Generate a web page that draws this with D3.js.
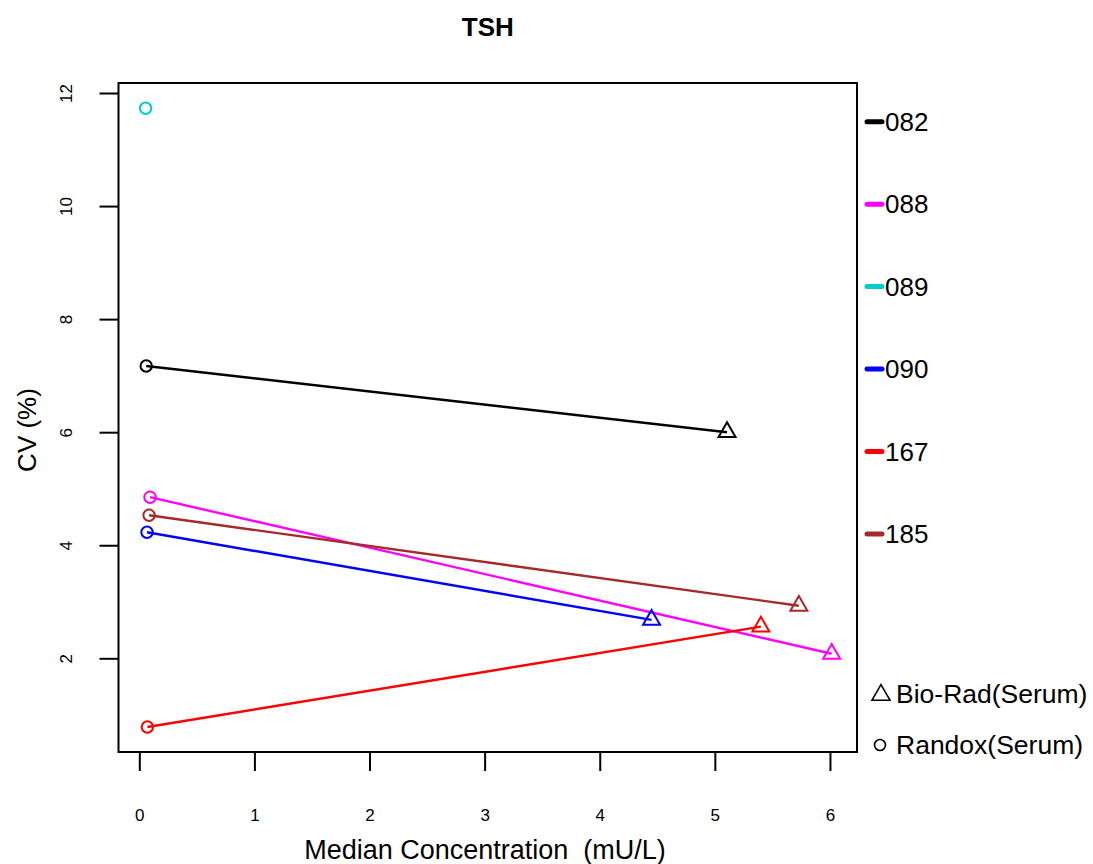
<!DOCTYPE html>
<html>
<head>
<meta charset="utf-8">
<script src="https://cdn.jsdelivr.net/npm/d3@7"></script>
<style>
  body { margin: 0; background: #fff; }
  text { font-family: "Liberation Sans", Arial, sans-serif; fill: #000; }
</style>
</head>
<body>
<svg id="chart" width="1093" height="864"></svg>
<script>
// ---- data ----
const labs = ["082", "088", "089", "090", "167", "185"];
const colors = ["#000000", "#FF00FF", "#00CDCD", "#0000FF", "#FF0000", "#A52A2A"];
const randoxX = [0.06, 0.093, 0.055, 0.067, 0.07, 0.085];
const randoxY = [7.17, 4.85, 11.73, 4.23, 0.785, 4.53];
const bioradX = [5.106, 6.015, null, 4.45, 5.40, 5.73];
const bioradY = [6.0, 2.08, null, 2.68, 2.56, 2.93];
const xTicks = [0, 1, 2, 3, 4, 5, 6];
const yTicks = [2, 4, 6, 8, 10, 12];
const materials = ["Bio-Rad(Serum)", "Randox(Serum)"];

// ---- layout ----
const svg = d3.select("#chart");
const L = 118.5, R = 857, T = 83, B = 752;
const x = d3.scaleLinear().domain([-0.1807, 6.235]).range([L, R]);
const y = d3.scaleLinear().domain([0.3425, 12.177]).range([B, T]);

// title
svg.append("text").attr("x", (L + R) / 2).attr("y", 36)
  .attr("text-anchor", "middle").style("font-size", "26px").style("font-weight", "bold")
  .text("TSH");

// box
svg.append("rect").attr("x", L).attr("y", T).attr("width", R - L).attr("height", B - T)
  .attr("fill", "none").attr("stroke", "#000").attr("stroke-width", 2);

// x axis
const gx = svg.append("g").attr("transform", `translate(0,${B})`)
  .call(d3.axisBottom(x).tickValues(xTicks).tickFormat(d3.format("d")).tickSize(19).tickPadding(38));
gx.attr("font-size", 17).attr("font-family", null);
gx.select(".domain").remove();
gx.selectAll(".tick line").attr("stroke", "#000").attr("stroke-width", 2);
gx.selectAll(".tick text").attr("font-size", 17).style("font-size", "17px").attr("fill", "#000");

// y axis
const gy = svg.append("g").attr("transform", `translate(${L},0)`)
  .call(d3.axisLeft(y).tickValues(yTicks).tickFormat(d3.format("d")).tickSize(19));
gy.attr("font-size", 17).attr("font-family", null);
gy.select(".domain").remove();
gy.selectAll(".tick line").attr("stroke", "#000").attr("stroke-width", 2);
gy.selectAll(".tick text").attr("font-size", 17).style("font-size", "17px").attr("fill", "#000")
  .attr("x", null).attr("dy", "0.35em").attr("text-anchor", "middle")
  .attr("transform", "translate(-52,0) rotate(-90)");

// axis titles
svg.append("text").attr("x", 485).attr("y", 859).attr("text-anchor", "middle")
  .style("font-size", "27px").style("white-space", "pre").attr("xml:space", "preserve")
  .text("Median Concentration  (mU/L)");
svg.append("text").attr("transform", "translate(36,430) rotate(-90)")
  .attr("text-anchor", "middle").style("font-size", "26px").text("CV (%)");

// series lines and points
const tri = d3.symbol().type(d3.symbolTriangle).size(125);
labs.forEach((lab, i) => {
  const c = colors[i];
  if (bioradX[i] !== null) {
    svg.append("line")
      .attr("x1", x(randoxX[i])).attr("y1", y(randoxY[i]))
      .attr("x2", x(bioradX[i])).attr("y2", y(bioradY[i]))
      .attr("stroke", c).attr("stroke-width", 2.4);
    svg.append("path").attr("d", tri)
      .attr("transform", `translate(${x(bioradX[i])},${y(bioradY[i])})`)
      .attr("fill", "none").attr("stroke", c).attr("stroke-width", 2);
  }
  svg.append("circle").attr("cx", x(randoxX[i])).attr("cy", y(randoxY[i])).attr("r", 5.7)
    .attr("fill", "none").attr("stroke", c).attr("stroke-width", 2);
});

// lab legend
const legY = d3.scalePoint().domain(labs).range([121.7, 534]);
labs.forEach((lab, i) => {
  svg.append("line").attr("x1", 867).attr("x2", 882)
    .attr("y1", legY(lab)).attr("y2", legY(lab))
    .attr("stroke", colors[i]).attr("stroke-width", 5).attr("stroke-linecap", "round");
  svg.append("text").attr("x", 885).attr("y", legY(lab)).attr("dy", "0.35em")
    .style("font-size", "26px").text(lab);
});

// material legend
svg.append("path").attr("d", d3.symbol().type(d3.symbolTriangle).size(140))
  .attr("transform", "translate(881,695)").attr("fill", "none").attr("stroke", "#000").attr("stroke-width", 1.6);
svg.append("circle").attr("cx", 880).attr("cy", 745).attr("r", 5.5)
  .attr("fill", "none").attr("stroke", "#000").attr("stroke-width", 1.6);
materials.forEach((m, i) => {
  svg.append("text").attr("x", 896).attr("y", i === 0 ? 694 : 745).attr("dy", "0.35em")
    .style("font-size", "26.5px").text(m);
});
</script>
</body>
</html>
